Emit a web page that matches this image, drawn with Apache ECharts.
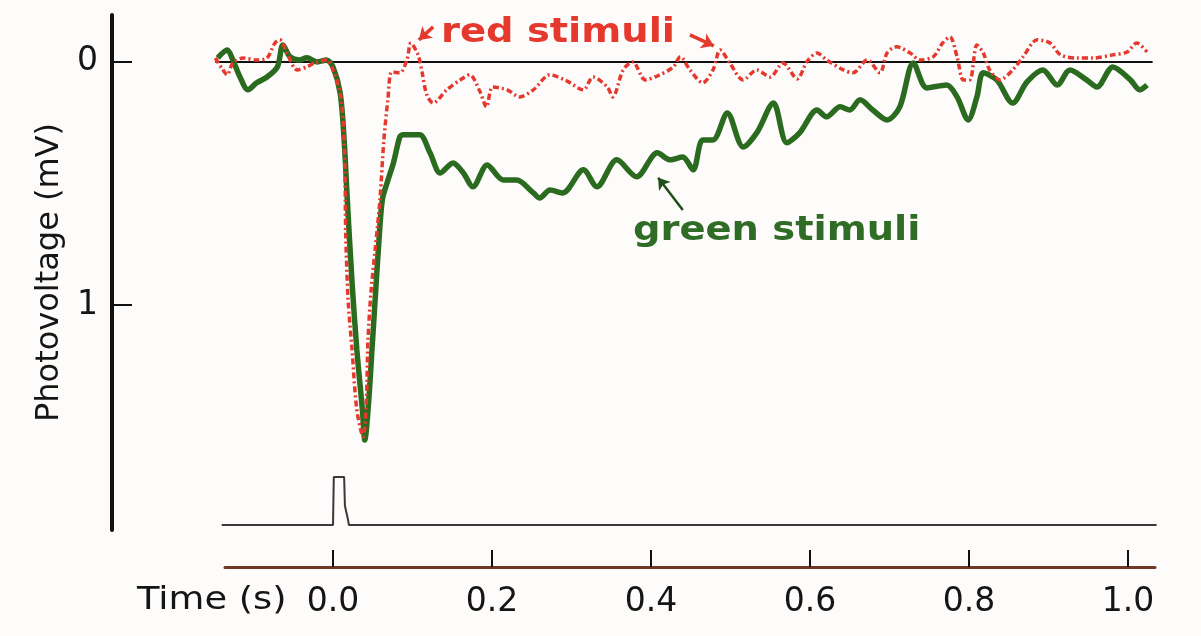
<!DOCTYPE html>
<html lang="en">
<head>
<meta charset="UTF-8">
<title>Photovoltage</title>
<script src="https://cdn.jsdelivr.net/npm/echarts@6/dist/echarts.min.js"></script>
<style>
  html, body { margin: 0; padding: 0; background: #fefbfb; }
  #main { width: 1201px; height: 636px; }
</style>
</head>
<body>
<div id="main"></div>
<script>
// time (s) and photovoltage (mV, plotted downward)
var greenT = [-0.145,-0.133,-0.126,-0.117,-0.107,-0.096,-0.083,-0.070,-0.063,-0.054,-0.042,-0.033,-0.020,-0.008,0.000,0.009,0.014,0.018,0.024,0.030,0.037,0.040,0.045,0.049,0.053,0.057,0.062,0.068,0.076,0.084,0.088,0.109,0.122,0.135,0.151,0.164,0.176,0.194,0.214,0.231,0.252,0.260,0.273,0.289,0.315,0.332,0.357,0.382,0.408,0.424,0.440,0.453,0.465,0.478,0.496,0.516,0.533,0.554,0.571,0.587,0.609,0.621,0.638,0.650,0.663,0.679,0.697,0.713,0.730,0.747,0.772,0.785,0.799,0.810,0.818,0.835,0.855,0.873,0.893,0.911,0.927,0.948,0.961,0.981,1.003,1.015,1.024];
var greenV = [-0.017,-0.049,-0.008,0.062,0.115,0.086,0.062,0.021,-0.070,-0.021,-0.008,-0.017,0.000,-0.008,0.021,0.128,0.321,0.568,0.909,1.185,1.432,1.556,1.391,1.185,0.979,0.774,0.568,0.498,0.416,0.309,0.300,0.300,0.374,0.457,0.416,0.457,0.514,0.424,0.486,0.486,0.539,0.560,0.527,0.539,0.444,0.514,0.403,0.473,0.374,0.403,0.391,0.444,0.321,0.321,0.210,0.350,0.292,0.169,0.333,0.292,0.198,0.226,0.185,0.198,0.156,0.198,0.239,0.185,0.004,0.107,0.095,0.144,0.239,0.144,0.045,0.074,0.169,0.082,0.033,0.095,0.033,0.074,0.103,0.021,0.074,0.115,0.095];

var redT = [-0.148,-0.140,-0.133,-0.126,-0.113,-0.096,-0.083,-0.073,-0.067,-0.058,-0.045,-0.033,-0.023,-0.008,0.000,0.009,0.013,0.015,0.016,0.019,0.024,0.030,0.038,0.042,0.044,0.048,0.053,0.059,0.064,0.069,0.074,0.084,0.093,0.098,0.107,0.112,0.118,0.126,0.143,0.160,0.172,0.185,0.193,0.201,0.219,0.235,0.252,0.273,0.294,0.315,0.327,0.345,0.352,0.365,0.377,0.393,0.408,0.428,0.437,0.449,0.465,0.478,0.487,0.499,0.516,0.533,0.550,0.566,0.584,0.596,0.609,0.621,0.642,0.654,0.672,0.688,0.697,0.709,0.726,0.738,0.755,0.767,0.776,0.785,0.793,0.801,0.810,0.818,0.826,0.839,0.855,0.868,0.886,0.902,0.915,0.936,0.956,0.981,0.999,1.011,1.024];
var redV = [-0.016,0.025,0.053,0.004,-0.016,-0.008,-0.016,-0.078,-0.091,-0.037,0.033,0.021,0.004,-0.008,0.033,0.128,0.259,0.444,0.704,0.979,1.185,1.432,1.543,1.391,1.144,0.938,0.774,0.568,0.321,0.156,0.041,0.045,-0.008,-0.078,-0.029,0.041,0.136,0.169,0.115,0.074,0.053,0.123,0.185,0.103,0.115,0.144,0.115,0.053,0.078,0.115,0.062,0.103,0.144,0.033,0.000,0.074,0.058,0.021,-0.021,0.033,0.086,0.033,-0.049,0.004,0.074,0.033,0.062,0.004,0.070,0.000,-0.037,-0.008,0.033,0.045,-0.008,0.045,-0.037,-0.062,-0.037,-0.008,-0.021,-0.078,-0.103,-0.021,0.074,0.074,-0.070,-0.037,0.033,0.074,0.033,-0.021,-0.091,-0.078,-0.029,-0.016,-0.016,-0.029,-0.041,-0.078,-0.041];

// zero line and stimulus monitor (0 = off, 1 = on)
var zeroT = [-0.148, 1.031];
var stimT = [-0.140, 0.000, 0.001, 0.014, 0.015, 0.019, 0.020, 1.036];
var stimLevel = [0, 0, 1, 1, 0.4, 0.1, 0, 0];

var timeTicks = [0, 0.2, 0.4, 0.6, 0.8, 1.0];
var voltTicks = [0, 1];

// annotation arrows [t0, v0, t1, v1]
var redArrows = [[0.126, -0.144, 0.108, -0.090], [0.449, -0.111, 0.479, -0.066]];
var greenArrow = [0.440, 0.609, 0.409, 0.477];

function pairs(xs, ys) {
    var out = [];
    for (var i = 0; i < xs.length; i++) out.push([xs[i], ys[i]]);
    return out;
}
function arrowLines(list) {
    return list.map(function (a) {
        return [{ coord: [a[0], a[1]] }, { coord: [a[2], a[3]] }];
    });
}

var FONT = 'DejaVu Sans';
var RED = '#e5392d';
var GREEN = '#2b6b1f';

var chart = echarts.init(document.getElementById('main'));
chart.setOption({
    backgroundColor: '#fefbfb',
    animation: false,
    grid: [
        { left: 112, right: 41, top: 15, bottom: 106 },
        { left: 112, right: 41, top: 477, height: 48 },
        { left: 225, right: 46, top: 560, height: 7 }
    ],
    xAxis: [
        { type: 'value', gridIndex: 0, min: -0.278, max: 1.0403, show: false },
        { type: 'value', gridIndex: 1, min: -0.278, max: 1.0403, show: false },
        {
            type: 'value', gridIndex: 2, min: -0.1358, max: 1.034,
            position: 'bottom',
            splitLine: { show: false },
            axisLine: { onZero: false, lineStyle: { color: '#6e3a24', width: 3 } },
            axisTick: { inside: true, length: 17, customValues: timeTicks, lineStyle: { color: '#111', width: 2 } },
            axisLabel: {
                customValues: timeTicks, margin: 19,
                color: '#151515', fontFamily: FONT, fontSize: 33,
                formatter: function (v) { return v.toFixed(1); }
            }
        }
    ],
    yAxis: [
        {
            type: 'value', gridIndex: 0, inverse: true, min: -0.193, max: 1.926,
            name: 'Photovoltage (mV)', nameLocation: 'middle', nameGap: 40,
            nameTextStyle: { color: '#151515', fontFamily: FONT, fontSize: 32 },
            splitLine: { show: false },
            axisLine: { onZero: false, lineStyle: { color: '#111', width: 4 } },
            axisTick: { inside: true, length: 20, customValues: voltTicks, lineStyle: { color: '#111', width: 2 } },
            axisLabel: { customValues: voltTicks, margin: 14, color: '#151515', fontFamily: FONT, fontSize: 33 }
        },
        { type: 'value', gridIndex: 1, min: 0, max: 1, show: false },
        { type: 'value', gridIndex: 2, min: 0, max: 1, show: false }
    ],
    series: [
        {
            name: 'zero', type: 'line', xAxisIndex: 0, yAxisIndex: 0,
            data: pairs(zeroT, [0, 0]), symbol: 'none', silent: true,
            lineStyle: { color: '#111', width: 2 }
        },
        {
            name: 'green stimuli', type: 'line', xAxisIndex: 0, yAxisIndex: 0,
            data: pairs(greenT, greenV), symbol: 'none', smooth: 0.3,
            lineStyle: { color: GREEN, width: 5.5 },
            markLine: {
                silent: true, symbol: ['none', 'arrow'], symbolSize: 11,
                label: { show: false },
                lineStyle: { color: '#1f4f18', width: 2.5, type: 'solid' },
                data: arrowLines([greenArrow])
            }
        },
        {
            name: 'red stimuli', type: 'line', xAxisIndex: 0, yAxisIndex: 0,
            data: pairs(redT, redV), symbol: 'none', smooth: 0.3,
            lineStyle: { color: RED, width: 3.5, type: [6, 3, 2, 3] },
            markLine: {
                silent: true, symbol: ['none', 'arrow'], symbolSize: 12,
                label: { show: false },
                lineStyle: { color: RED, width: 3.5, type: 'solid' },
                data: arrowLines(redArrows)
            }
        },
        {
            name: 'stimulus', type: 'line', xAxisIndex: 1, yAxisIndex: 1,
            data: pairs(stimT, stimLevel), symbol: 'none', silent: true,
            lineStyle: { color: '#3a3a3a', width: 2 }
        }
    ],
    graphic: [
        {
            type: 'text', x: 441, y: 33, scaleX: 1.13,
            style: { text: 'red stimuli', fill: RED, font: 'bold 34px "DejaVu Sans"', verticalAlign: 'middle' }
        },
        {
            type: 'text', x: 633, y: 231, scaleX: 1.13,
            style: { text: 'green stimuli', fill: '#2f6d26', font: 'bold 34px "DejaVu Sans"', verticalAlign: 'middle' }
        },
        {
            type: 'text', x: 137, y: 601, scaleX: 1.15,
            style: { text: 'Time (s)', fill: '#151515', font: '32px "DejaVu Sans"', verticalAlign: 'middle' }
        }
    ]
});
</script>
</body>
</html>
